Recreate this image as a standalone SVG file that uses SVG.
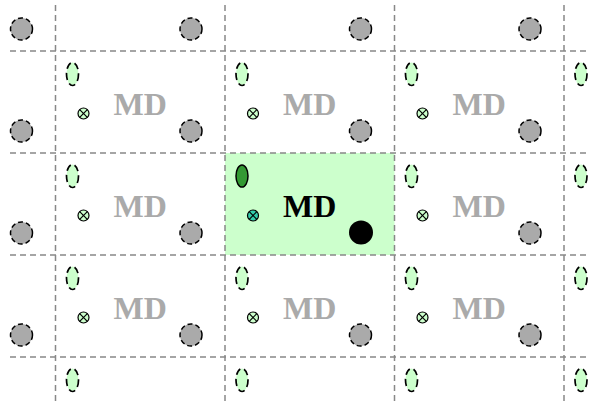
<svg xmlns="http://www.w3.org/2000/svg" width="590" height="401" viewBox="0 0 590 401">
<defs>
<style>
.grid{stroke:#888;stroke-width:1.5;stroke-dasharray:6 4;fill:none}
.gc{fill:#aaa;stroke:#000;stroke-width:1.5;stroke-dasharray:5 3}
.el{fill:#ccffcc;stroke:#000;stroke-width:1.7;stroke-dasharray:7 4}
.md{font-family:"Liberation Serif",serif;font-weight:bold;font-size:32px;text-anchor:middle;fill:#aaa}
.xc{fill:#ccffcc;stroke:#000;stroke-width:1.2}
.xl{stroke:#000;stroke-width:1.2}
</style>
<g id="xmark">
<line class="xl" x1="-3.8" y1="-3.8" x2="3.8" y2="3.8"/>
<line class="xl" x1="-3.8" y1="3.8" x2="3.8" y2="-3.8"/>
</g>
</defs>
<rect width="590" height="401" fill="#fff"/>
<g id="center-cell">
<rect x="225" y="153" width="169.5" height="102" fill="#ccffcc"/>
</g>
<g id="connectors">
<line class="grid" x1="55.5" y1="5" x2="55.5" y2="401"/>
<line class="grid" x1="225" y1="5" x2="225" y2="401"/>
<line class="grid" x1="394.5" y1="5" x2="394.5" y2="401"/>
<line class="grid" x1="564" y1="5" x2="564" y2="401"/>
<line class="grid" x1="10" y1="51" x2="590" y2="51"/>
<line class="grid" x1="10" y1="153" x2="590" y2="153"/>
<line class="grid" x1="10" y1="255" x2="590" y2="255"/>
<line class="grid" x1="10" y1="357" x2="590" y2="357"/>
</g>
<g id="gray-circles">
<circle class="gc" cx="21.5" cy="29" r="11"/><circle class="gc" cx="191" cy="29" r="11"/><circle class="gc" cx="360.5" cy="29" r="11"/><circle class="gc" cx="530" cy="29" r="11"/>
<circle class="gc" cx="21.5" cy="131" r="11"/><circle class="gc" cx="191" cy="131" r="11"/><circle class="gc" cx="360.5" cy="131" r="11"/><circle class="gc" cx="530" cy="131" r="11"/>
<circle class="gc" cx="21.5" cy="233" r="11"/><circle class="gc" cx="191" cy="233" r="11"/><circle class="gc" cx="530" cy="233" r="11"/>
<circle class="gc" cx="21.5" cy="335" r="11"/><circle class="gc" cx="191" cy="335" r="11"/><circle class="gc" cx="360.5" cy="335" r="11"/><circle class="gc" cx="530" cy="335" r="11"/>
</g>
<g id="ellipses">
<ellipse class="el" cx="72.5" cy="74" rx="6" ry="11.5"/><ellipse class="el" cx="242" cy="74" rx="6" ry="11.5"/><ellipse class="el" cx="411.5" cy="74" rx="6" ry="11.5"/><ellipse class="el" cx="581" cy="74" rx="6" ry="11.5"/>
<ellipse class="el" cx="72.5" cy="176" rx="6" ry="11.5"/><ellipse class="el" cx="411.5" cy="176" rx="6" ry="11.5"/><ellipse class="el" cx="581" cy="176" rx="6" ry="11.5"/>
<ellipse class="el" cx="72.5" cy="278" rx="6" ry="11.5"/><ellipse class="el" cx="242" cy="278" rx="6" ry="11.5"/><ellipse class="el" cx="411.5" cy="278" rx="6" ry="11.5"/><ellipse class="el" cx="581" cy="278" rx="6" ry="11.5"/>
<ellipse class="el" cx="72.5" cy="380" rx="6" ry="11.5"/><ellipse class="el" cx="242" cy="380" rx="6" ry="11.5"/><ellipse class="el" cx="411.5" cy="380" rx="6" ry="11.5"/><ellipse class="el" cx="581" cy="380" rx="6" ry="11.5"/>
</g>
<g id="crossed">
<g transform="translate(83.5,113.5)"><circle class="xc" r="5.5"/><use href="#xmark"/></g>
<g transform="translate(253,113.5)"><circle class="xc" r="5.5"/><use href="#xmark"/></g>
<g transform="translate(422.5,113.5)"><circle class="xc" r="5.5"/><use href="#xmark"/></g>
<g transform="translate(83.5,215.5)"><circle class="xc" r="5.5"/><use href="#xmark"/></g>
<g transform="translate(422.5,215.5)"><circle class="xc" r="5.5"/><use href="#xmark"/></g>
<g transform="translate(83.5,317.5)"><circle class="xc" r="5.5"/><use href="#xmark"/></g>
<g transform="translate(253,317.5)"><circle class="xc" r="5.5"/><use href="#xmark"/></g>
<g transform="translate(422.5,317.5)"><circle class="xc" r="5.5"/><use href="#xmark"/></g>
</g>
<g id="labels">
<text class="md" x="140.25" y="115">MD</text>
<text class="md" x="309.75" y="115">MD</text>
<text class="md" x="479.25" y="115">MD</text>
<text class="md" x="140.25" y="217">MD</text>
<text class="md" x="479.25" y="217">MD</text>
<text class="md" x="140.25" y="319">MD</text>
<text class="md" x="309.75" y="319">MD</text>
<text class="md" x="479.25" y="319">MD</text>
</g>
<g id="center-items">
<ellipse cx="242" cy="176" rx="6" ry="11" fill="#339933" stroke="#000" stroke-width="1.5"/>
<g transform="translate(253,215.5)"><circle r="5.5" fill="#33ccaa" stroke="#000" stroke-width="1.2"/><use href="#xmark"/></g>
<circle cx="361" cy="232.5" r="12" fill="#000"/>
<text class="md" x="309.75" y="217" style="fill:#000">MD</text>
</g>
</svg>
